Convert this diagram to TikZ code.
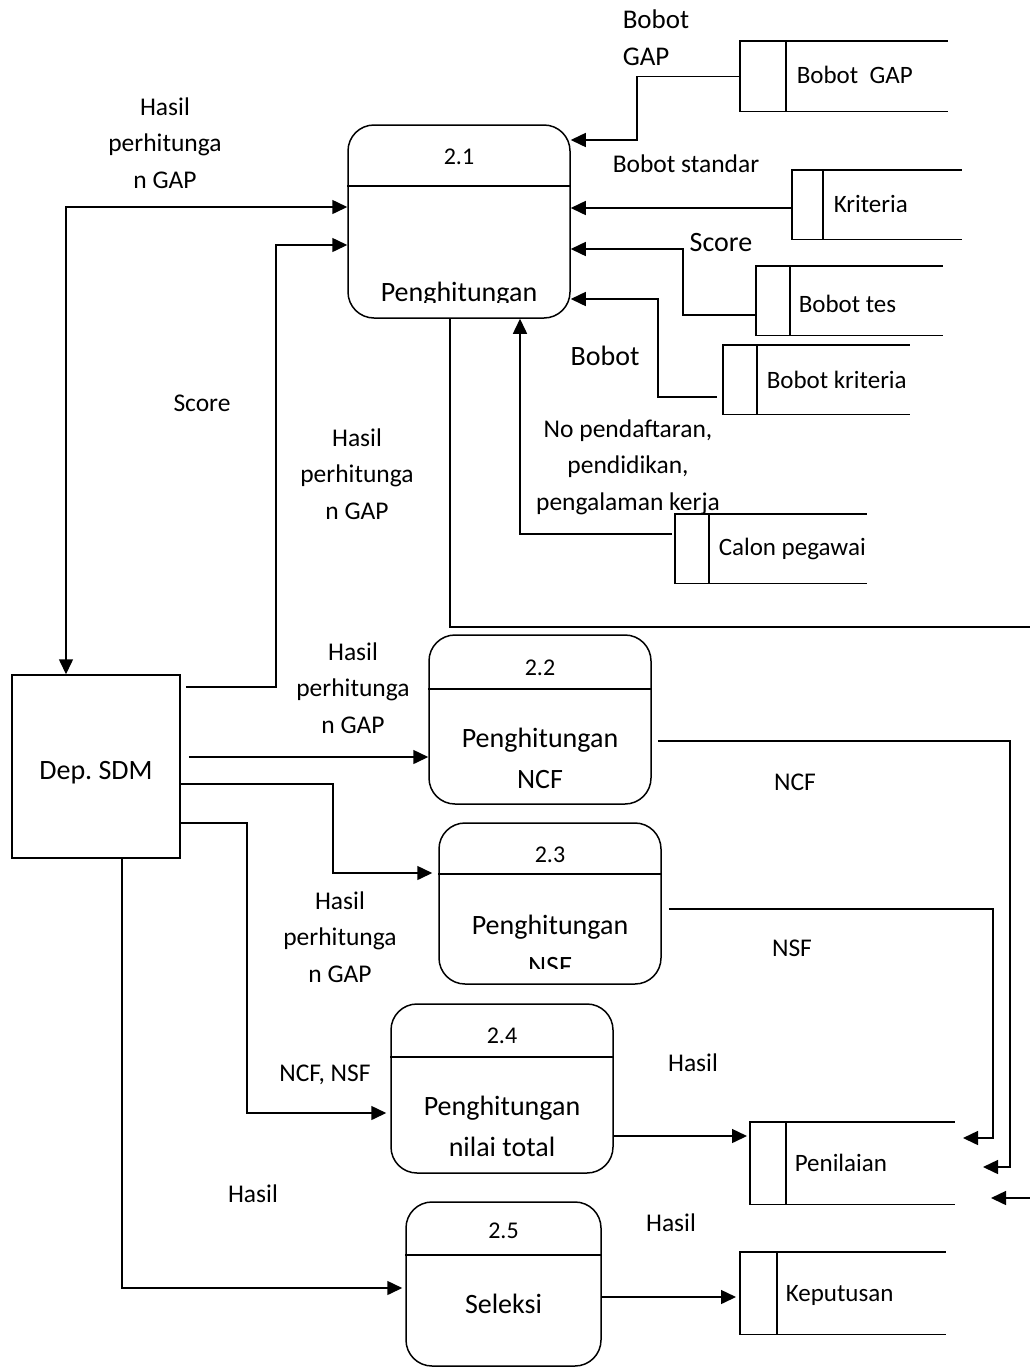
\documentclass[tikz,border=0pt]{standalone}
\usepackage{fontspec}
\setmainfont{Carlito}
\frenchspacing
\usetikzlibrary{arrows.meta, positioning}

\begin{document}
\begin{tikzpicture} [x=1pt, y=-1pt, line width=1.5pt,
  >={Triangle[length=15pt, width=14pt]},
  proc/.style = {draw, rounded corners=26pt, minimum width=222pt, inner sep=0pt},
  ent/.style = {draw, inner sep=0pt},
  store/.style = {inner sep=0pt, anchor=north west},
  lbl/.style = {font=\fontsize{25.5}{36.5}\selectfont, align=center, inner sep=0pt, anchor=base},
  big/.style = {font=\fontsize{28}{41}\selectfont, align=center, inner sep=0pt, anchor=base},
  num/.style = {font=\fontsize{24}{29}\selectfont, inner sep=0pt, anchor=base},
  stxt/.style = {font=\fontsize{25}{30}\selectfont, inner sep=0pt, anchor=base west}]

\useasboundingbox (0,0) rectangle (1030,1368);
\clip (0,0) rectangle (1030,1368);

% processes
\node (p1) [proc, minimum height=193pt] at (459,221.5) {};
\node (p2) [proc, minimum height=169pt] at (540,719.5) {};
\node (p3) [proc, minimum height=161pt] at (550,903.5) {};
\node (p4) [proc, minimum height=169pt] at (502,1088.5) {};
\node (p5) [proc, minimum width=195pt, minimum height=164pt] at (503.5,1284) {};

\draw (p1.west |- 0,186) -- (p1.east |- 0,186);
\draw (p2.west |- 0,689) -- (p2.east |- 0,689);
\draw (p3.west |- 0,874) -- (p3.east |- 0,874);
\draw (p4.west |- 0,1057) -- (p4.east |- 0,1057);
\draw (p5.west |- 0,1255) -- (p5.east |- 0,1255);

\node (p1num) [num] at (459,164) {2.1};
\node (p2num) [num] at (540,675) {2.2};
\node (p3num) [num] at (550,862) {2.3};
\node (p4num) [num] at (502,1043) {2.4};
\node (p5num) [num] at (503.5,1238) {2.5};

% names (base = last line)
\begin{scope}
  \clip (348,125) rectangle (570,302);
  \node (p1name) [big] at (459,301) {Penghitungan};
\end{scope}
\node (p2name) [big] at (540,788) {Penghitungan\\NCF};
\begin{scope}
  \clip (439,823) rectangle (661,968);
  \node (p3name) [big] at (550,975) {Penghitungan\\NSF};
\end{scope}
\node (p4name) [big] at (502,1156) {Penghitungan\\nilai total};
\node (p5name) [big] at (503.5,1313) {Seleksi};

% external entity
\node (sdm) [ent, minimum width=168pt, minimum height=183pt] at (96,766.5) {};
\node (sdmtxt) [big] at (96,779) {Dep. SDM};

% data stores
\node (sGap) [store, minimum width=206pt, minimum height=69pt] at (740,41) {};
\node (sKrit) [store, minimum width=168pt, minimum height=68pt] at (792,170) {};
\node (sTes) [store, minimum width=185pt, minimum height=68pt] at (756,266) {};
\node (sBK) [store, minimum width=185pt, minimum height=68pt] at (723,345) {};
\node (sCalon) [store, minimum width=190pt, minimum height=68pt] at (675,514) {};
\node (sNilai) [store, minimum width=203pt, minimum height=81pt] at (750,1122) {};
\node (sKep) [store, minimum width=204pt, minimum height=81pt] at (740,1252) {};

\foreach \s/\d in {sGap/46, sKrit/31, sTes/34, sBK/34, sCalon/34, sNilai/36, sKep/37} {
  \draw (\s.north east) -- (\s.north west) -- (\s.south west) -- (\s.south east);
  \draw ([xshift=\d pt]\s.north west) -- ([xshift=\d pt]\s.south west);
}

\node (tGap) [stxt] at (796,83) {Bobot~~GAP};
\node (tKrit) [stxt] at (833,212) {Kriteria};
\node (tTes) [stxt] at (798,312) {Bobot tes};
\node (tBK) [stxt] at (766,388) {Bobot kriteria};
\node (tCalon) [stxt] at (718,555) {Calon pegawai};
\node (tNilai) [stxt] at (794,1171) {Penilaian};
\node (tKep) [stxt] at (785,1301) {Keputusan};

% free ends on the right
\coordinate (nsfIn) at (963,1138);
\coordinate (ncfIn) at (983,1167);
\coordinate (gapIn) at (991,1198);
\coordinate (offRight) at (1045,627);

% into 2.1
\draw [->] (sGap.west) -| (637,140) -- (p1.east |- 0,140);
\draw [->] (sKrit.west |- 0,208) -- (p1.east |- 0,208);
\draw [->] (sTes.west |- 0,315) -| (683,249) -- (p1.east |- 0,249);
\draw [->, shorten <=6pt] (sBK.west |- 0,397) -| (658,299) -- (p1.east |- 0,299);
\draw [->, shorten <=3pt] (sCalon.west |- 0,534) -| (p1.south -| 520,0);
\draw [->] (p1.south -| 450,0) |- (offRight) |- (gapIn);

% Dep. SDM
\draw [<->] (sdm.north -| 66,0) |- (p1.west |- 0,207);
\draw [->, shorten <=5pt] (sdm.east |- 0,687) -| (276,245) -- (p1.west |- 0,245);
\draw [->, shorten <=8pt] (sdm.east |- 0,757) -- (p2.west |- 0,757);
\draw [->, shorten >=6pt] (sdm.east |- 0,784) -| (333,873) -- (p3.west |- 0,873);
\draw [->, shorten >=4pt] (sdm.east |- 0,823) -| (247,1113) -- (p4.west |- 0,1113);
\draw [->, shorten >=3pt] (sdm.south -| 122,0) |- (p5.west |- 0,1288);

% to the stores
\draw [->, shorten <=6pt] (p2.east |- 0,741) -| (1010,1167) -- (ncfIn);
\draw [->, shorten <=7pt] (p3.east |- 0,909) -| (993,1138) -- (nsfIn);
\draw [->, shorten >=3pt] (p4.east |- 0,1136) -- (sNilai.west |- 0,1136);
\draw [->, shorten >=4pt] (p5.east |- 0,1297) -- (sKep.west |- 0,1297);

% labels (base = last line)
\node (lHasil1) [lbl] at (165,188) {Hasil\\perhitunga\\n GAP};
\node (lBobotGap) [lbl, anchor=base west, align=left, font=\fontsize{27}{37}\selectfont] at (622,65) {Bobot\\GAP};
\node (lStandar) [lbl] at (686,172) {Bobot standar};
\node (lScore1) [lbl, font=\fontsize{28}{34}\selectfont] at (721,251) {Score};
\node (lBobot) [lbl, font=\fontsize{28}{34}\selectfont] at (605,365) {Bobot};
\node (lCalon) [lbl] at (628,510) {No pendaftaran,\\pendidikan,\\pengalaman kerja};
\node (lScore2) [lbl] at (202,411) {Score};
\node (lHasil2) [lbl] at (357,519) {Hasil\\perhitunga\\n GAP};
\node (lHasil3) [lbl] at (353,733) {Hasil\\perhitunga\\n GAP};
\node (lHasil4) [lbl] at (340,982) {Hasil\\perhitunga\\n GAP};
\node (lNCF) [lbl] at (795,790) {NCF};
\node (lNSF) [lbl] at (792,956) {NSF};
\node (lNCFNSF) [lbl] at (325,1081) {NCF, NSF};
\node (lHasil5) [lbl] at (693,1071) {Hasil};
\node (lHasil6) [lbl] at (671,1231) {Hasil};
\node (lHasil7) [lbl] at (253,1202) {Hasil};
\end{tikzpicture}
\end{document}
